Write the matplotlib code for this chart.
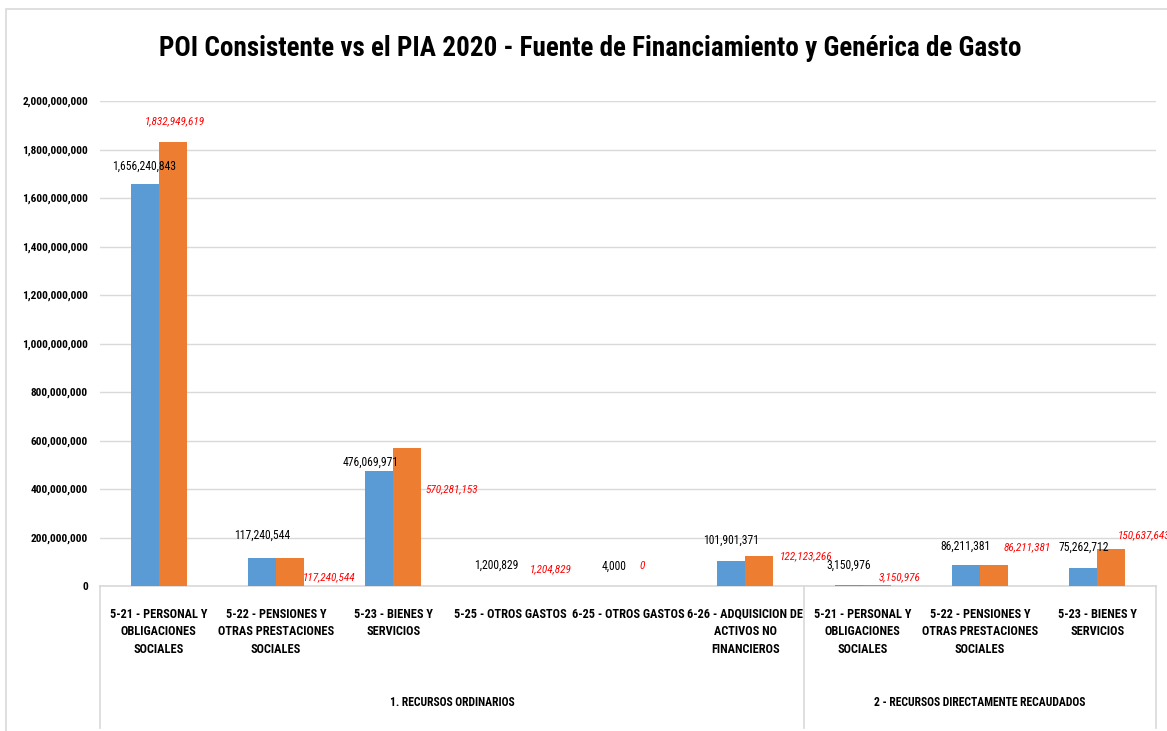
import numpy as np
import matplotlib
matplotlib.use("Agg")
import matplotlib.pyplot as plt
import matplotlib.transforms as mtransforms
from matplotlib.patches import Rectangle

plt.rcParams['font.family'] = ['Liberation Sans Narrow', 'Arial Narrow', 'Roboto Condensed',
                               'Archivo Narrow', 'PT Sans Narrow', 'Fira Sans Condensed',
                               'Fira Sans Extra Condensed', 'DejaVu Sans']

# data
categories = ["5-21 - PERSONAL Y\nOBLIGACIONES\nSOCIALES",
              "5-22 - PENSIONES Y\nOTRAS PRESTACIONES\nSOCIALES",
              "5-23 - BIENES Y\nSERVICIOS",
              "5-25 - OTROS GASTOS",
              "6-25 - OTROS GASTOS",
              "6-26 - ADQUISICION DE\nACTIVOS NO\nFINANCIEROS",
              "5-21 - PERSONAL Y\nOBLIGACIONES\nSOCIALES",
              "5-22 - PENSIONES Y\nOTRAS PRESTACIONES\nSOCIALES",
              "5-23 - BIENES Y\nSERVICIOS"]
groups = ["1. RECURSOS ORDINARIOS", "2 - RECURSOS DIRECTAMENTE RECAUDADOS"]
group_sizes = [6, 3]
poi = [1656240843, 117240544, 476069971, 1200829, 4000, 101901371, 3150976, 86211381, 75262712]
pia = [1832949619, 117240544, 570281153, 1204829, 0, 122123266, 3150976, 86211381, 150637643]

# label offsets in pixels (layout only)
poi_off = [(0, 18), (0, 22), (-9, 8), (0, 20), (0, 20), (0, 21), (0, 20), (0, 19), (0, 20)]
pia_off = [(2, 20), (39, -20), (44, -42), (26, 16), (0, 20), (47, 0), (23, 8), (33, 18), (33, 14)]

W, H = 1167, 731
fig = plt.figure(figsize=(W / 100, H / 100), dpi=100)
# chart border
fig.patches.append(Rectangle((6 / W, -0.1), 1.2, (H - 9) / H + 0.1, transform=fig.transFigure,
                             fill=False, edgecolor='#D9D9D9', lw=1.2))
ax = fig.add_axes([100 / W, (H - 586) / H, 1056 / W, 485 / H])

x = np.arange(len(categories))
bw = 0.24
ax.bar(x - bw / 2, poi, bw, color='#5B9BD5', zorder=3)
ax.bar(x + bw / 2, pia, bw, color='#ED7D31', zorder=3)

for i in range(len(x)):
    ax.annotate(f"{poi[i]:,}", (x[i] - bw / 2, poi[i]), xytext=poi_off[i],
                textcoords='offset pixels', ha='center', va='center',
                fontsize=8.4, color='black')
    ax.annotate(f"{pia[i]:,}", (x[i] + bw / 2, pia[i]), xytext=pia_off[i],
                textcoords='offset pixels', ha='center', va='center',
                fontsize=8.1, color='#FF0000', style='italic', annotation_clip=False)

ax.set_xlim(-0.5, len(x) - 0.5)
ax.set_ylim(0, 2000000000)
ax.set_yticks(np.arange(0, 2000000001, 200000000))
ax.yaxis.set_major_formatter(matplotlib.ticker.FuncFormatter(lambda v, p: f"{int(v):,}"))
ax.tick_params(axis='y', length=0, pad=8.6, labelsize=8.2)
for t in ax.get_yticklabels():
    t.set_fontweight('bold')
ax.grid(axis='y', color='#D9D9D9', linewidth=1, zorder=0)
ax.set_xticks([])
for s in ['top', 'right', 'left']:
    ax.spines[s].set_visible(False)
ax.spines['bottom'].set_color('#D9D9D9')
ax.spines['bottom'].set_linewidth(1.2)

trans = mtransforms.blended_transform_factory(ax.transData, ax.transAxes)
for i, lab in enumerate(categories):
    ax.text(x[i], -0.045, lab, transform=trans, ha='center', va='top',
            fontsize=8.8, fontweight='bold', linespacing=1.45)

edges = np.concatenate([[0], np.cumsum(group_sizes)]) - 0.5
for e in edges:
    ax.plot([e, e], [0, -0.292], transform=trans, color='#D9D9D9', lw=1.2, clip_on=False)
for g, (a, b) in zip(groups, zip(edges[:-1], edges[1:])):
    ax.text((a + b) / 2, -0.24, g, transform=trans, ha='center', va='center',
            fontsize=8.4, fontweight='bold')

fig.text(0.5056, 1 - 48 / H, "POI Consistente vs el PIA 2020 - Fuente de Financiamiento y Genérica de Gasto",
         ha='center', va='center', fontsize=19.5, fontweight='bold')

fig.savefig("out.png", dpi=100)
